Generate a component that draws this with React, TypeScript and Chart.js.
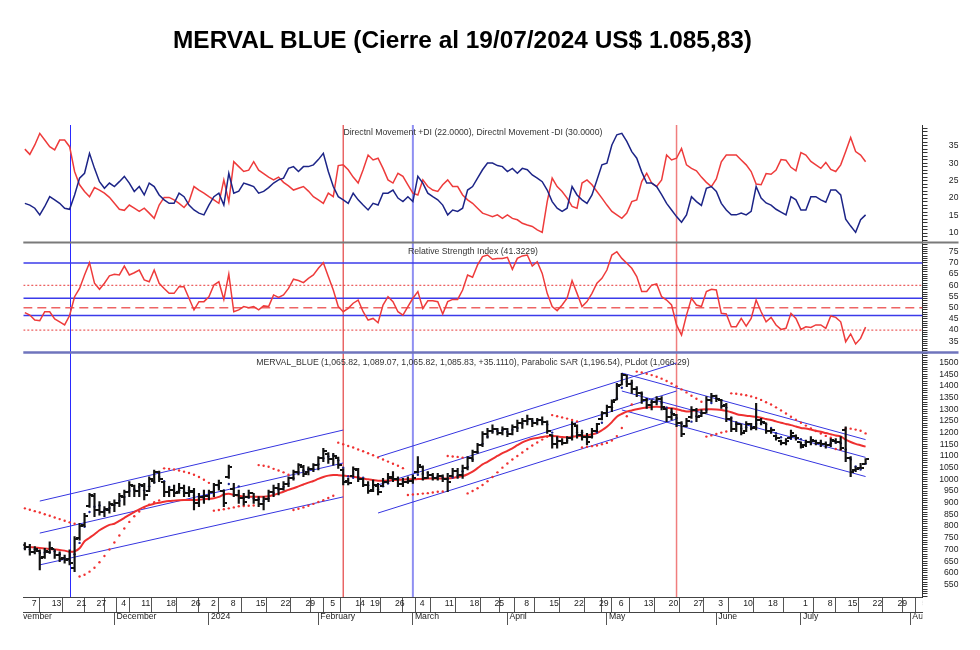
import React, { useEffect, useRef } from 'react';
import { Chart, registerables } from 'chart.js';

Chart.register(...registerables);

const FONT_FAMILY = '"Liberation Sans", Arial, sans-serif';
const FONT_SIZE = 8.7;

// ---------- trading calendar ----------
const MONTH_KEYS = ['2023-11', '2023-12', '2024-01', '2024-02', '2024-03', '2024-04', '2024-05', '2024-06', '2024-07', '2024-08'];
const MONTH_LABELS = ['November', 'December', '2024', 'February', 'March', 'April', 'May', 'June', 'July', 'August'];
const SESSION_DAYS = [
  [1, 2, 3, 6, 7, 8, 9, 10, 13, 14, 15, 16, 17, 21, 22, 23, 24, 27, 28, 29, 30],
  [1, 4, 5, 6, 7, 11, 12, 13, 14, 15, 18, 19, 20, 21, 22, 26, 27, 28, 29],
  [2, 3, 4, 5, 8, 9, 10, 11, 12, 15, 16, 17, 18, 19, 22, 23, 24, 25, 26, 29, 30, 31],
  [1, 2, 5, 6, 7, 8, 9, 14, 15, 16, 19, 20, 21, 22, 23, 26, 27, 28, 29],
  [1, 4, 5, 6, 7, 8, 11, 12, 13, 14, 15, 18, 19, 20, 21, 22, 25, 26, 27],
  [3, 4, 5, 8, 9, 10, 11, 12, 15, 16, 17, 18, 19, 22, 23, 24, 25, 26, 29, 30],
  [2, 3, 6, 7, 8, 9, 10, 13, 14, 15, 16, 17, 20, 21, 22, 23, 24, 27, 28, 29, 30, 31],
  [3, 4, 5, 6, 7, 10, 11, 12, 13, 14, 18, 19, 24, 25, 26, 27, 28],
  [1, 2, 3, 4, 5, 8, 10, 11, 12, 15, 16, 17, 18, 19, 22, 23, 24, 25, 26, 29, 30, 31],
  [1, 2, 5],
];
const DAY_TICK_DATES = [
  '2023-11-07', '2023-11-13', '2023-11-21', '2023-11-27', '2023-12-04', '2023-12-11', '2023-12-18', '2023-12-26',
  '2024-01-02', '2024-01-08', '2024-01-15', '2024-01-22', '2024-01-29', '2024-02-05', '2024-02-14', '2024-02-19',
  '2024-02-26', '2024-03-04', '2024-03-11', '2024-03-18', '2024-03-25', '2024-04-08', '2024-04-15', '2024-04-22',
  '2024-04-29', '2024-05-06', '2024-05-13', '2024-05-20', '2024-05-27', '2024-06-03', '2024-06-10', '2024-06-18',
  '2024-07-01', '2024-07-08', '2024-07-15', '2024-07-22', '2024-07-29', '2024-08-05',
];
const SERIES_START = '2023-11-06';
const VIEW_MIN = 2.69; // sessions index shown at left edge
const VIEW_MAX = 183.44;

// ---------- price (OHLC), one value per session from 2023-11-06 to 2024-07-19 ----------
const OPEN = [
  720, 712, 690, 695, 668, 690, 700, 678, 662, 660,
  620, 750, 805, 885, 930, 870, 860, 870, 890, 900,
  925, 945, 970, 950, 970, 950, 995, 1030, 990, 945,
  955, 945, 965, 940, 945, 900, 925, 930, 945, 975,
  950, 1010, 960, 935, 920, 925, 940, 910, 895, 915,
  945, 965, 960, 980, 1005, 1030, 1055, 1030, 1045, 1060,
  1090, 1110, 1085, 1090, 1040, 995, 1015, 1040, 1000, 975,
  955, 970, 972, 990, 1005, 1000, 980, 990, 995, 1030,
  1055, 1005, 1020, 1005, 1015, 1000, 1015, 1035, 1020, 1050,
  1090, 1115, 1145, 1195, 1205, 1215, 1200, 1215, 1195, 1225,
  1240, 1250, 1260, 1240, 1255, 1245, 1190, 1150, 1165, 1155,
  1175, 1230, 1190, 1180, 1180, 1205, 1258, 1285, 1310, 1340,
  1405, 1445, 1410, 1385, 1370, 1340, 1320, 1330, 1345, 1300,
  1265, 1275, 1240, 1228, 1265, 1295, 1270, 1285, 1340, 1355,
  1340, 1320, 1260, 1215, 1235, 1208, 1235, 1225, 1255, 1240,
  1205, 1185, 1165, 1155, 1175, 1185, 1160, 1145, 1160, 1165,
  1155, 1150, 1145, 1165, 1160, 1210, 1090, 1040, 1050, 1065.82,
];
const HIGH = [
  729, 722, 712, 698, 705, 733, 700, 690, 676, 698,
  755, 812, 855, 940, 940, 905, 883, 905, 912, 940,
  954, 990, 975, 983, 983, 1011, 1040, 1035, 990, 969,
  975, 983, 975, 969, 962, 940, 954, 954, 983, 997,
  954, 1061, 983, 954, 940, 954, 940, 926, 926, 954,
  976, 983, 990, 1011, 1040, 1068, 1060, 1054, 1068, 1097,
  1133, 1115, 1111, 1095, 1045, 1004, 1054, 1047, 1004, 990,
  997, 983, 1004, 1026, 1033, 1011, 1004, 1011, 1019, 1097,
  1058, 1033, 1026, 1026, 1019, 1026, 1047, 1047, 1061, 1097,
  1125, 1154, 1204, 1218, 1233, 1218, 1225, 1218, 1233, 1254,
  1261, 1275, 1261, 1261, 1268, 1250, 1192, 1183, 1175, 1183,
  1247, 1233, 1211, 1197, 1218, 1240, 1290, 1318, 1340, 1411,
  1454, 1446, 1425, 1397, 1375, 1347, 1340, 1354, 1354, 1302,
  1304, 1278, 1247, 1261, 1311, 1304, 1297, 1354, 1368, 1361,
  1342, 1325, 1268, 1247, 1236, 1247, 1240, 1325, 1261, 1242,
  1218, 1190, 1168, 1175, 1211, 1190, 1161, 1168, 1183, 1168,
  1168, 1161, 1175, 1175, 1183, 1225, 1097, 1054, 1069, 1089.07,
];
const LOW = [
  698, 676, 681, 612, 662, 683, 662, 648, 641, 634,
  605, 740, 798, 880, 840, 847, 840, 855, 862, 883,
  890, 926, 926, 926, 912, 947, 983, 990, 926, 926,
  926, 940, 926, 926, 869, 883, 897, 912, 926, 954,
  883, 1004, 926, 897, 890, 919, 897, 883, 869, 904,
  926, 933, 954, 969, 997, 1019, 1011, 1019, 1033, 1040,
  1076, 1068, 1061, 1047, 976, 976, 1011, 990, 969, 940,
  947, 933, 969, 983, 990, 969, 969, 983, 983, 1026,
  997, 1004, 997, 997, 990, 947, 1011, 1004, 1004, 1040,
  1076, 1111, 1140, 1176, 1197, 1190, 1190, 1183, 1190, 1204,
  1218, 1233, 1225, 1233, 1233, 1197, 1133, 1133, 1147, 1154,
  1168, 1176, 1168, 1147, 1176, 1204, 1254, 1268, 1290, 1340,
  1404, 1397, 1368, 1354, 1325, 1304, 1297, 1318, 1297, 1247,
  1254, 1225, 1183, 1225, 1261, 1247, 1268, 1283, 1332, 1332,
  1304, 1247, 1204, 1204, 1190, 1204, 1211, 1211, 1233, 1197,
  1197, 1168, 1147, 1147, 1175, 1168, 1133, 1140, 1147, 1147,
  1140, 1133, 1140, 1154, 1126, 1076, 1011, 1033, 1047, 1065.82,
];
const CLOSE = [
  712, 690, 700, 665, 695, 705, 675, 660, 655, 640,
  745, 800, 845, 935, 870, 860, 875, 895, 900, 930,
  945, 975, 950, 975, 935, 1000, 1030, 1000, 945, 955,
  940, 965, 940, 950, 900, 925, 930, 945, 975, 985,
  900, 1055, 935, 920, 905, 940, 910, 895, 915, 945,
  965, 960, 980, 1005, 1030, 1060, 1025, 1045, 1060, 1090,
  1120, 1085, 1100, 1060, 990, 985, 1045, 1000, 975, 950,
  975, 945, 990, 1010, 1000, 980, 990, 995, 1005, 1060,
  1005, 1020, 1005, 1015, 1000, 990, 1035, 1020, 1050, 1090,
  1115, 1145, 1195, 1205, 1215, 1200, 1215, 1195, 1225, 1240,
  1250, 1260, 1240, 1255, 1245, 1205, 1150, 1165, 1155, 1175,
  1235, 1190, 1180, 1160, 1205, 1235, 1285, 1310, 1330, 1400,
  1445, 1410, 1385, 1370, 1340, 1320, 1330, 1345, 1310, 1265,
  1280, 1240, 1195, 1250, 1295, 1265, 1285, 1340, 1355, 1345,
  1315, 1260, 1215, 1235, 1200, 1235, 1220, 1255, 1245, 1205,
  1210, 1175, 1155, 1165, 1200, 1175, 1140, 1160, 1170, 1155,
  1150, 1145, 1170, 1160, 1135, 1090, 1030, 1045, 1050.72, 1085.83,
];
const PARABOLIC_SAR = [
  876, 870, 864, 858, 851, 844, 837, 830, 823, 816,
  810, 584, 592, 605, 622, 645, 672, 700, 730, 760,
  790, 818, 842, 862, 878, 892, 902, 910, 1047, 1045,
  1042, 1038, 1033, 1027, 1020, 1010, 998, 985, 866, 869,
  872, 876, 880, 885, 886, 887, 888, 1061, 1058, 1054,
  1045, 1038, 1030, 1020, 869, 874, 880, 887, 895, 903,
  911, 920, 930, 1157, 1150, 1143, 1136, 1128, 1120, 1112,
  1103, 1094, 1085, 1076, 1067, 1058, 1048, 933, 935, 937,
  939, 941, 944, 947, 948, 1100, 1098, 1096, 1093, 940,
  950, 962, 976, 992, 1010, 1030, 1050, 1068, 1085, 1100,
  1115, 1130, 1145, 1158, 1170, 1182, 1275, 1270, 1265, 1260,
  1254, 1248, 1136, 1139, 1142, 1145, 1150, 1156, 1166, 1185,
  1220, 1270, 1320, 1461, 1457, 1452, 1446, 1439, 1431, 1421,
  1410, 1398, 1385, 1372, 1358, 1345, 1332, 1183, 1188, 1194,
  1200, 1205, 1368, 1366, 1363, 1360, 1355, 1348, 1340, 1330,
  1320, 1308, 1295, 1282, 1268, 1255, 1242, 1230, 1218, 1207,
  1196, 1186, 1178, 1130, 1128, 1218, 1217, 1213, 1208, 1196.54,
];
const PLDOT = [
  705, 700, 700, 685, 687, 688, 692, 680, 663, 652,
  680, 728, 797, 860, 883, 888, 868, 877, 890, 908,
  925, 950, 957, 967, 953, 970, 988, 1010, 992, 967,
  947, 953, 948, 952, 930, 925, 918, 933, 950, 968,
  953, 980, 963, 970, 920, 922, 918, 915, 907, 918,
  942, 957, 968, 982, 1005, 1032, 1038, 1043, 1043, 1065,
  1090, 1098, 1102, 1082, 1050, 1012, 1007, 1010, 1007, 975,
  967, 957, 970, 982, 1000, 997, 990, 988, 997, 1020,
  1023, 1028, 1010, 1013, 1007, 1002, 1008, 1015, 1035, 1053,
  1085, 1117, 1152, 1182, 1205, 1207, 1210, 1203, 1212, 1220,
  1238, 1250, 1250, 1252, 1247, 1235, 1200, 1173, 1157, 1165,
  1188, 1200, 1202, 1177, 1182, 1200, 1242, 1277, 1308, 1347,
  1392, 1418, 1413, 1388, 1365, 1343, 1330, 1332, 1328, 1307,
  1287, 1262, 1238, 1228, 1247, 1270, 1282, 1297, 1327, 1347,
  1338, 1307, 1263, 1237, 1217, 1223, 1218, 1237, 1240, 1235,
  1220, 1197, 1180, 1165, 1173, 1180, 1172, 1158, 1158, 1162,
  1158, 1150, 1155, 1158, 1155, 1128, 1085, 1055, 1042, 1066.29,
];
const AVERAGE_LINE = [
  712, 710, 708, 706, 704, 702, 700, 698, 695, 690,
  692, 705, 735, 750, 765, 782, 795, 805, 810, 822,
  835, 848, 860, 872, 882, 890, 896, 900, 904, 907,
  909, 911, 912, 912, 912, 913, 915, 917, 919, 925,
  935, 938, 934, 930, 927, 926, 926, 926, 926, 928,
  933, 940, 947, 955, 962, 970, 978, 986, 993, 1002,
  1010, 1016, 1019, 1018, 1016, 1014, 1011, 1008, 1004, 1000,
  997, 994, 994, 995, 997, 998, 999, 1000, 1000, 1001,
  1002, 1004, 1004, 1004, 1004, 1004, 1006, 1010, 1014, 1022,
  1033, 1048, 1064, 1075, 1088, 1100, 1112, 1122, 1133, 1146,
  1158, 1167, 1174, 1177, 1181, 1185, 1186, 1184, 1181, 1180,
  1182, 1185, 1186, 1188, 1193, 1198, 1210, 1225, 1245, 1268,
  1280, 1290, 1295, 1300, 1304, 1307, 1310, 1311, 1309, 1306,
  1304, 1300, 1295, 1290, 1292, 1296, 1299, 1300, 1300, 1299,
  1297, 1293, 1287, 1280, 1275, 1272, 1270, 1268, 1264, 1258,
  1254, 1248, 1242, 1237, 1232, 1226, 1220, 1218, 1213, 1208,
  1204, 1198, 1193, 1188, 1184, 1170, 1160, 1152, 1146, 1140,
];

// ---------- indicators ----------
const PLUS_DI = [
  18.5, 18.0, 17.1, 15.2, 17.6, 20.4, 19.5, 18.5, 17.1, 16.8,
  20.9, 25.7, 27.1, 32.8, 28.5, 24.7, 22.8, 24.3, 23.3, 24.7,
  26.2, 24.3, 21.9, 23.3, 20.9, 24.3, 23.3, 20.9, 19.5, 18.5,
  18.5, 21.4, 20.4, 18.0, 16.6, 15.7, 15.2, 18.0, 20.4, 21.4,
  18.0, 27.1, 21.4, 22.0, 24.3, 23.8, 23.3, 21.4, 21.9, 23.0,
  24.3, 25.2, 25.7, 28.5, 29.0, 27.6, 29.0, 29.0, 29.5, 31.0,
  32.8, 27.6, 23.3, 20.4, 19.5, 18.5, 21.4, 19.5, 18.0, 16.6,
  18.5, 18.0, 21.4, 21.4, 22.3, 20.0, 19.0, 20.4, 19.0, 26.2,
  24.3, 21.4, 20.4, 19.5, 18.0, 15.2, 16.6, 16.2, 17.1, 22.3,
  23.3, 25.7, 28.1, 30.0, 30.0, 29.3, 29.0, 27.6, 28.5, 27.1,
  28.5, 28.1, 26.6, 25.7, 24.7, 22.3, 19.0, 17.1, 16.2, 17.1,
  23.3, 20.9, 19.5, 18.5, 20.9, 25.2, 29.5, 30.0, 35.2, 38.1,
  38.5, 36.2, 33.3, 31.4, 27.5, 24.3, 24.3, 23.3, 21.0, 18.5,
  16.6, 14.7, 13.1, 15.2, 20.4, 19.0, 17.9, 22.8, 23.3, 21.9,
  18.5, 16.6, 15.2, 15.2, 15.7, 15.2, 16.2, 23.3, 20.0, 18.6,
  18.0, 16.8, 16.0, 15.2, 20.4, 19.5, 16.6, 16.6, 20.4, 20.4,
  19.5, 18.8, 22.3, 22.3, 20.9, 14.0, 12.0, 10.2, 13.8, 15.2,
];
const MINUS_DI = [
  34.0, 32.5, 35.2, 38.5, 36.6, 34.7, 33.8, 36.6, 36.6, 34.7,
  27.6, 23.8, 21.9, 20.4, 23.0, 22.3, 21.4, 20.2, 18.5, 16.8,
  16.5, 18.0, 17.1, 16.2, 17.1, 15.7, 14.2, 18.0, 20.2, 20.2,
  19.5, 18.5, 17.3, 19.0, 23.3, 22.3, 21.4, 20.4, 19.5, 18.5,
  25.2, 19.0, 30.4, 29.0, 27.6, 28.0, 30.4, 28.0, 27.0, 26.0,
  25.2, 26.0, 24.5, 23.5, 22.3, 22.8, 23.3, 22.0, 20.4, 19.5,
  18.5, 21.4, 20.4, 29.3, 29.5, 28.1, 26.0, 24.3, 28.1, 32.3,
  30.9, 31.4, 28.5, 25.2, 24.3, 27.1, 26.2, 23.8, 21.4, 20.9,
  25.2, 23.3, 22.3, 21.9, 23.8, 25.2, 23.3, 23.3, 20.9, 19.5,
  18.5, 17.1, 15.7, 15.2, 14.7, 15.2, 14.2, 15.2, 14.2, 13.8,
  12.8, 12.3, 11.9, 10.9, 10.2, 19.0, 25.7, 23.3, 21.9, 20.0,
  17.6, 17.1, 24.3, 25.2, 23.8, 21.9, 20.0, 18.0, 16.2, 15.2,
  14.2, 15.7, 19.0, 19.5, 24.7, 27.1, 24.3, 23.3, 25.2, 32.3,
  30.9, 31.4, 34.2, 29.5, 28.5, 27.8, 26.0, 24.5, 23.3, 25.5,
  30.4, 32.3, 32.3, 32.3, 30.9, 29.5, 27.6, 24.0, 23.8, 27.0,
  26.8, 28.0, 31.0, 30.8, 28.8, 27.8, 33.0, 32.3, 30.5, 29.5,
  28.5, 30.2, 28.2, 27.6, 29.5, 33.3, 37.3, 33.3, 32.3, 30.4,
];
const RSI = [
  47.8, 46.7, 44.5, 44.2, 48.2, 48.2, 45.0, 43.7, 42.3, 46.5,
  54.9, 58.6, 64.6, 70.1, 60.9, 58.2, 60.9, 64.2, 64.9, 64.6,
  68.6, 64.6, 65.6, 66.8, 62.4, 61.6, 66.8, 60.9, 58.6, 56.4,
  56.4, 59.4, 59.4, 54.2, 49.0, 52.7, 52.7, 54.9, 60.1, 61.6,
  53.7, 65.0, 48.2, 49.0, 50.5, 50.0, 50.5, 49.0, 50.8, 50.5,
  55.7, 54.6, 55.7, 58.6, 62.7, 62.1, 61.2, 63.1, 64.6, 67.6,
  70.1, 63.9, 57.9, 50.5, 48.2, 49.7, 52.0, 53.4, 48.2, 44.5,
  45.2, 43.3, 51.2, 54.9, 52.7, 48.2, 46.7, 50.5, 54.2, 57.2,
  49.7, 53.1, 53.1, 52.7, 47.2, 52.7, 53.7, 53.7, 57.9, 64.6,
  63.6, 69.1, 72.8, 73.5, 71.6, 72.0, 72.0, 72.5, 67.1, 72.0,
  73.1, 73.5, 68.6, 70.5, 65.3, 56.4, 50.5, 48.7, 51.2, 54.2,
  62.1, 56.4, 50.5, 52.7, 56.4, 60.9, 63.1, 66.8, 73.5, 75.0,
  72.0, 69.8, 67.6, 63.9, 57.2, 57.2, 60.1, 60.6, 54.9, 53.4,
  51.2, 42.3, 37.8, 46.7, 54.2, 51.2, 50.5, 57.2, 58.2, 57.9,
  47.5, 47.2, 41.5, 41.5, 45.2, 41.8, 45.2, 53.4, 48.2, 43.7,
  45.7, 42.3, 40.3, 40.8, 47.5, 45.2, 40.3, 41.5, 41.2, 42.3,
  42.3, 40.8, 46.3, 45.7, 43.7, 34.8, 38.3, 33.8, 36.3, 41.3229,
];
const RSI_BLUE_LEVELS = [70, 54.2, 46.5];
const RSI_DOTTED_LEVELS = [60, 40];
const RSI_DASHED_LEVELS = [50];

// ---------- axis labels ----------
const DMI_TICK_LABELS = [10, 15, 20, 25, 30, 35];
const RSI_TICK_LABELS = [35, 40, 45, 50, 55, 60, 65, 70, 75];
const PRICE_TICK_LABELS = [550, 600, 650, 700, 750, 800, 850, 900, 950, 1000, 1050, 1100, 1150, 1200, 1250, 1300, 1350, 1400, 1450, 1500];

// ---------- trend channels ----------
const CHANNEL_FROM_DATES = ['2023-11-09', '2023-11-09', '2023-11-09', '2024-02-21', '2024-02-21', '2024-02-21', '2024-05-07', '2024-05-07', '2024-05-07'];
const CHANNEL_TO_DATES = ['2024-02-08', '2024-02-08', '2024-02-08', '2024-05-22', '2024-05-22', '2024-05-22', '2024-07-19', '2024-07-19', '2024-07-19'];
const CHANNEL_FROM_PRICES = [907, 770, 634, 1096, 976, 856, 1455, 1378, 1297];
const CHANNEL_TO_PRICES = [1211, 1070, 925, 1498, 1378, 1258, 1170, 1094, 1012];

// ---------- vertical markers ----------
const MARKER_DATES = ['2023-11-17', '2024-02-08', '2024-03-01', '2024-05-22'];
const MARKER_COLORS = ['#2a2aff', '#e65050', '#8f8ff2', '#f07e7e'];
const MARKER_WIDTHS = [1, 1.3, 2, 1.5];
const MARKER_SNAP = [true, false, false, false];

const DMI_TITLE = 'Directnl Movement +DI (22.0000), Directnl Movement -DI (30.0000)';
const RSI_TITLE = 'Relative Strength Index (41.3229)';
const PRICE_TITLE = 'MERVAL_BLUE (1,065.82, 1,089.07, 1,065.82, 1,085.83, +35.1110), Parabolic SAR (1,196.54), PLdot (1,066.29)';

// ---------- layout ----------
const PLOT_LEFT = 23.3;
const PLOT_TOP = 125;
const PLOT_RIGHT = 922.5;
const AXIS_W = 36;
const DAY_ROW = 15;
const MONTH_ROW = 14;
const PLOT_BOTTOM = 597;
const LABEL_RIGHT = 956;

const TRADING_DATES: string[] = MONTH_KEYS.flatMap((m, i) =>
  SESSION_DAYS[i].map((d) => `${m}-${String(d).padStart(2, '0')}`)
);
const sessionIndex = (d: string) => TRADING_DATES.indexOf(d);
const START = sessionIndex(SERIES_START);
const MONTH_START_IDX = MONTH_KEYS.map((m, i) => sessionIndex(`${m}-${String(SESSION_DAYS[i][0]).padStart(2, '0')}`));

function measure(t: string) {
  const c = document.createElement('canvas').getContext('2d') as CanvasRenderingContext2D;
  c.font = `${FONT_SIZE}px ${FONT_FAMILY}`;
  return c.measureText(t).width;
}

function tickImage(side: 'left' | 'right') {
  const c = document.createElement('canvas');
  c.width = 7;
  c.height = 2;
  const g = c.getContext('2d') as CanvasRenderingContext2D;
  g.fillStyle = '#111';
  if (side === 'left') g.fillRect(0, 0, 3, 2);
  else g.fillRect(4, 0, 3, 2);
  return c;
}

function patchClip(s: any) {
  if (s.$clipPatched) return;
  s.$clipPatched = true;
  const orig = s.drawLabels.bind(s);
  s.drawLabels = (area: any) => {
    const c = s.ctx as CanvasRenderingContext2D;
    c.save();
    c.beginPath();
    c.rect(s.left, s.top - 2, s.right - s.left, s.bottom - s.top + 6);
    c.clip();
    orig(area);
    c.restore();
  };
}

const tickColorInView = (ctx: any) =>
  ctx.tick && (ctx.tick.value < VIEW_MIN || ctx.tick.value > VIEW_MAX) ? 'rgba(0,0,0,0)' : '#555';

function yAxis(weight: number, min: number, max: number, step: number, labels: number[]) {
  const widest = Math.max(...labels.map((l) => measure(String(l))));
  return {
    type: 'linear',
    position: 'right',
    stack: 'panels',
    stackWeight: weight,
    min,
    max,
    bounds: 'data',
    afterBuildTicks: (s: any) => {
      const t: any[] = [];
      for (let v = Math.ceil(min / step) * step; v <= max; v += step) t.push({ value: v });
      s.ticks = t;
    },
    afterFit: (s: any) => {
      s.width = AXIS_W;
    },
    grid: { drawOnChartArea: false, tickLength: 5, color: '#333', lineWidth: 1 },
    border: { display: true, color: '#333', width: 1 },
    ticks: {
      autoSkip: false,
      crossAlign: 'far',
      padding: LABEL_RIGHT - PLOT_RIGHT - 5 - widest,
      font: { family: FONT_FAMILY, size: FONT_SIZE },
      color: '#222',
      callback: (v: number) => (labels.includes(v) ? String(v) : ''),
    },
  };
}

const overlayPlugin = {
  id: 'overlay',
  beforeDatasetsDraw(chart: any) {
    const { ctx, chartArea, scales } = chart;
    ctx.save();
    MARKER_DATES.forEach((d, i) => {
      const raw = scales.x.getPixelForValue(sessionIndex(d));
      const x = MARKER_SNAP[i] ? Math.round(raw) + 0.5 : raw;
      ctx.strokeStyle = MARKER_COLORS[i];
      ctx.lineWidth = MARKER_WIDTHS[i];
      ctx.beginPath();
      ctx.moveTo(x, chartArea.top);
      ctx.lineTo(x, chartArea.bottom);
      ctx.stroke();
    });
    ctx.restore();
  },
  afterDatasetsDraw(chart: any) {
    const { ctx, chartArea, scales } = chart;
    const right = scales.yDmi.right;
    ctx.save();
    ctx.strokeStyle = '#7a7a7a';
    ctx.lineWidth = 2;
    ctx.beginPath();
    ctx.moveTo(chartArea.left, scales.yRsi.top);
    ctx.lineTo(right, scales.yRsi.top);
    ctx.stroke();
    ctx.strokeStyle = '#6f74bd';
    ctx.lineWidth = 2.5;
    ctx.beginPath();
    ctx.moveTo(chartArea.left, scales.yPrice.top);
    ctx.lineTo(right, scales.yPrice.top);
    ctx.stroke();
    const cx = (chartArea.left + chartArea.right) / 2;
    ctx.font = `${FONT_SIZE}px ${FONT_FAMILY}`;
    ctx.fillStyle = '#333';
    ctx.textAlign = 'center';
    ctx.textBaseline = 'middle';
    ctx.fillText(DMI_TITLE, cx, scales.yDmi.top + 7.3);
    ctx.fillText(RSI_TITLE, cx, scales.yRsi.top + 9.2);
    ctx.fillText(PRICE_TITLE, cx, scales.yPrice.top + 10.2);
    ctx.restore();
  },
};

export default function App() {
  const ref = useRef<HTMLCanvasElement>(null);

  useEffect(() => {
    const canvas = ref.current as HTMLCanvasElement;
    const pts = (arr: number[]) => arr.map((y, i) => ({ x: START + i, y }));
    const font = { family: FONT_FAMILY, size: FONT_SIZE };

    const dayTickIdx = DAY_TICK_DATES.map(sessionIndex);
    const dayLabels = new Map<number, string>();
    DAY_TICK_DATES.forEach((d, i) => dayLabels.set(dayTickIdx[i], String(Number(d.slice(8)))));
    const dayTicks = Array.from(new Set([...dayTickIdx, ...MONTH_START_IDX]))
      .filter((v) => v >= VIEW_MIN && v <= VIEW_MAX)
      .sort((a, b) => a - b);
    const monthLabels = new Map<number, string>();
    MONTH_START_IDX.forEach((v, i) => monthLabels.set(v, MONTH_LABELS[i]));

    const channelSets = CHANNEL_FROM_DATES.map((d, i) => ({
      type: 'line',
      data: [
        { x: sessionIndex(d), y: CHANNEL_FROM_PRICES[i] },
        { x: sessionIndex(CHANNEL_TO_DATES[i]), y: CHANNEL_TO_PRICES[i] },
      ],
      borderColor: '#3535e0',
      borderWidth: 1,
      pointRadius: 0,
      yAxisID: 'yPrice',
    }));
    const level = (y: number, color: string, dash: number[], width: number) => ({
      type: 'line',
      data: [
        { x: VIEW_MIN, y },
        { x: VIEW_MAX, y },
      ],
      borderColor: color,
      borderDash: dash,
      borderWidth: width,
      pointRadius: 0,
      yAxisID: 'yRsi',
    });

    const datasets: any[] = [
      {
        type: 'line', showLine: false, data: pts(OPEN), pointStyle: tickImage('left'), pointRadius: 3, yAxisID: 'yPrice',
      },
      {
        type: 'line', showLine: false, data: pts(CLOSE), pointStyle: tickImage('right'), pointRadius: 3, yAxisID: 'yPrice',
      },
      {
        type: 'bar',
        data: HIGH.map((h, i) => ({ x: START + i, y: [LOW[i], h] })),
        backgroundColor: '#111',
        borderWidth: 0,
        barThickness: 1.5,
        grouped: false,
        yAxisID: 'yPrice',
      },
      {
        type: 'line', showLine: false, data: pts(PLDOT), pointRadius: 1.2, pointBorderWidth: 0,
        pointBackgroundColor: '#1a2590', yAxisID: 'yPrice',
      },
      {
        type: 'line', showLine: false, data: pts(PARABOLIC_SAR), pointRadius: 1.2, pointBorderWidth: 0,
        pointBackgroundColor: '#f03232', yAxisID: 'yPrice',
      },
      {
        type: 'line', data: pts(AVERAGE_LINE), borderColor: '#ee3030', borderWidth: 2, pointRadius: 0,
        tension: 0.3, yAxisID: 'yPrice',
      },
      ...channelSets,
      { type: 'line', data: pts(PLUS_DI), borderColor: '#1c2487', borderWidth: 1.5, pointRadius: 0, yAxisID: 'yDmi' },
      { type: 'line', data: pts(MINUS_DI), borderColor: '#ee3b3b', borderWidth: 1.5, pointRadius: 0, yAxisID: 'yDmi' },
      { type: 'line', data: pts(RSI), borderColor: '#ee3b3b', borderWidth: 1.5, pointRadius: 0, yAxisID: 'yRsi' },
      ...RSI_DASHED_LEVELS.map((v) => level(v, '#ee6464', [9, 5], 1.5)),
      ...RSI_DOTTED_LEVELS.map((v) => level(v, '#e83a3a', [2, 2], 1)),
      ...RSI_BLUE_LEVELS.map((v) => level(v, '#3b3bea', [], 1.5)),
    ];

    const chart = new Chart(canvas, {
      type: 'line',
      data: { datasets },
      plugins: [overlayPlugin],
      options: {
        animation: false,
        responsive: false,
        devicePixelRatio: 1,
        events: [],
        layout: {
          padding: {
            left: PLOT_LEFT,
            top: PLOT_TOP,
            right: 980 - PLOT_RIGHT - AXIS_W,
            bottom: 650 - PLOT_BOTTOM - DAY_ROW - MONTH_ROW,
          },
        },
        plugins: { legend: { display: false }, tooltip: { enabled: false }, title: { display: false } },
        scales: {
          x: {
            type: 'linear',
            position: 'bottom',
            min: VIEW_MIN,
            max: VIEW_MAX,
            offset: false,
            bounds: 'data',
            afterBuildTicks: (s: any) => {
              s.ticks = dayTicks.map((v) => ({ value: v }));
              patchClip(s);
            },
            afterFit: (s: any) => {
              s.height = DAY_ROW;
            },
            grid: { drawOnChartArea: false, tickLength: DAY_ROW, color: '#555', tickColor: tickColorInView, lineWidth: 1 },
            border: { display: true, color: '#444', width: 1 },
            ticks: {
              autoSkip: false,
              maxRotation: 0,
              minRotation: 0,
              align: 'start',
              labelOffset: 2,
              padding: -13.6,
              font,
              color: '#222',
              callback: (v: number) => dayLabels.get(v) ?? '',
            },
          },
          xMonth: {
            type: 'linear',
            position: 'bottom',
            min: VIEW_MIN,
            max: VIEW_MAX,
            offset: false,
            bounds: 'data',
            afterBuildTicks: (s: any) => {
              s.ticks = MONTH_START_IDX.map((v) => ({ value: v }));
              patchClip(s);
            },
            afterFit: (s: any) => {
              s.height = MONTH_ROW;
            },
            grid: { drawOnChartArea: false, tickLength: 13, color: '#555', tickColor: tickColorInView, lineWidth: 1 },
            border: { display: true, color: '#444', width: 1 },
            ticks: {
              autoSkip: false,
              maxRotation: 0,
              minRotation: 0,
              align: 'start',
              labelOffset: 2,
              padding: -13.2,
              font,
              color: '#222',
              callback: (v: number) => monthLabels.get(v) ?? '',
            },
          },
          yDmi: yAxis(117.5, 7.3, 40.9, 1, DMI_TICK_LABELS),
          yRsi: yAxis(110, 30.0, 79.1, 1, RSI_TICK_LABELS),
          yPrice: yAxis(244.5, 496.6, 1542.8, 10, PRICE_TICK_LABELS),
        } as any,
      },
    } as any);
    return () => chart.destroy();
  }, []);

  return (
    <div style={{ position: 'absolute', left: 0, top: 0, width: 980, height: 650, background: '#fff' }}>
      <canvas ref={ref} width={980} height={650} style={{ position: 'absolute', left: 0, top: 0, width: 980, height: 650 }} />
      <div
        style={{
          position: 'absolute',
          left: 0,
          top: 25,
          width: 925,
          textAlign: 'center',
          font: 'bold 24.4px "Liberation Sans", Arial, sans-serif',
          lineHeight: '30px',
          color: '#000',
        }}
      >
        MERVAL BLUE (Cierre al 19/07/2024 US$ 1.085,83)
      </div>
    </div>
  );
}
